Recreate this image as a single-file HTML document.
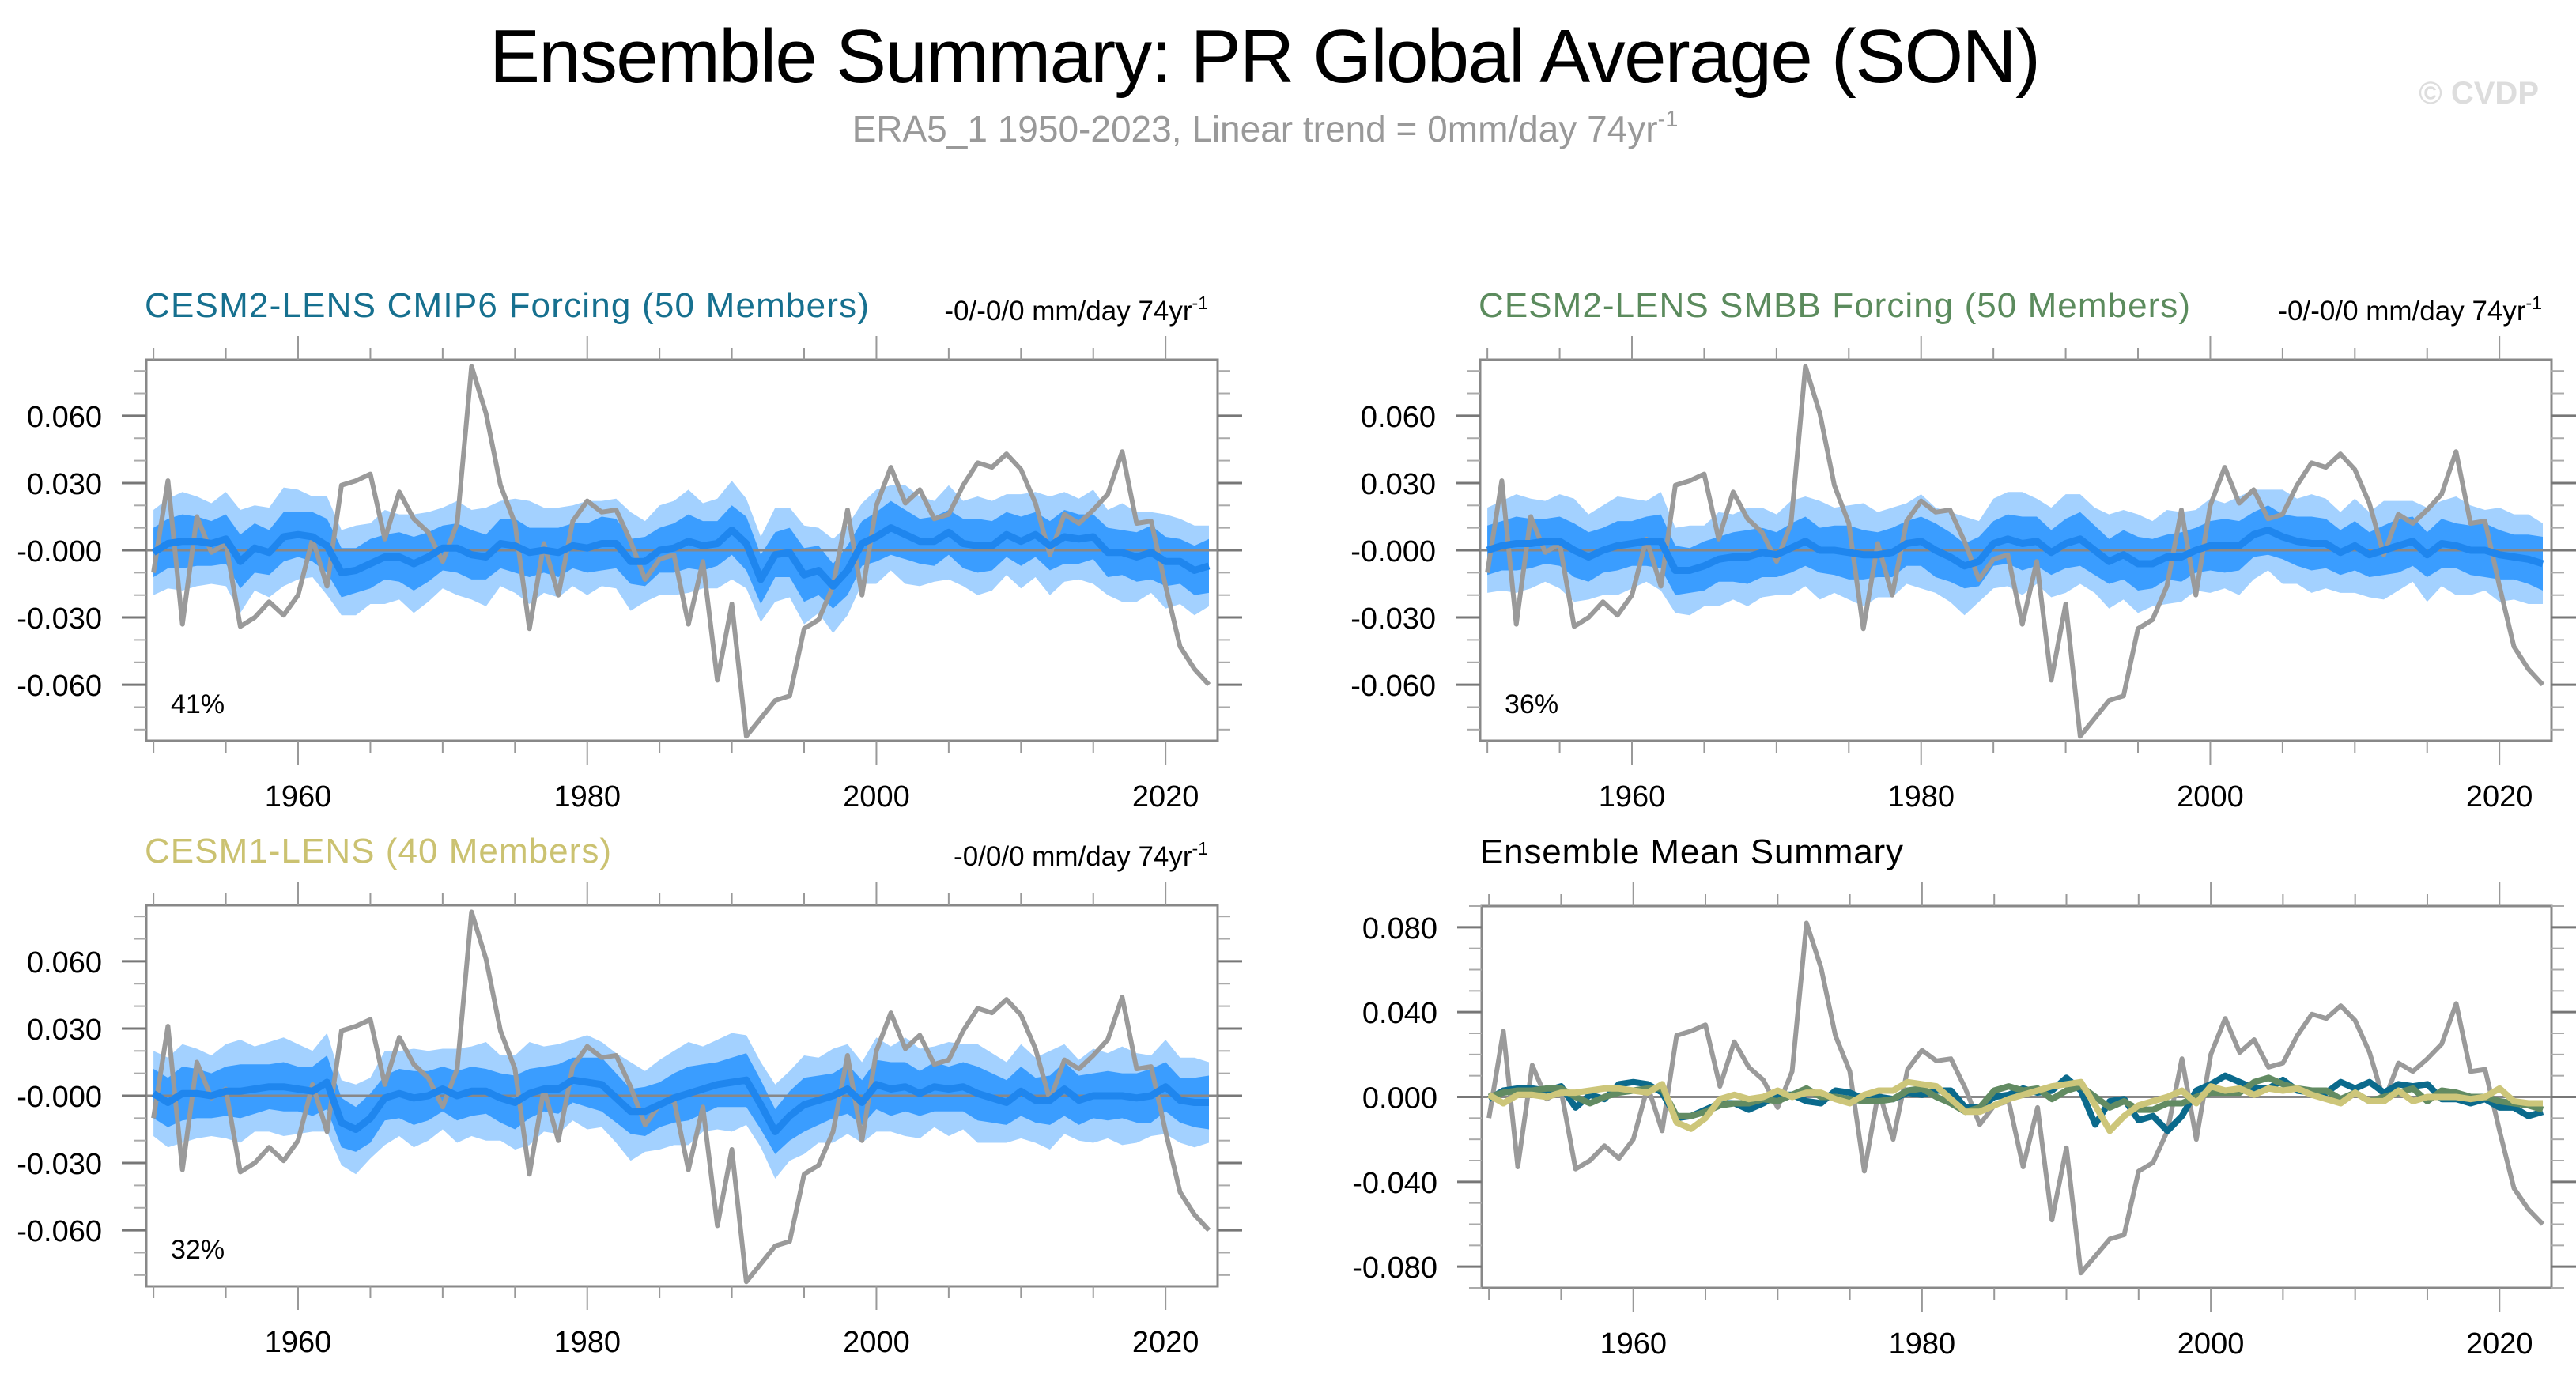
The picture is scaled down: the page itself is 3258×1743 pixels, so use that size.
<!DOCTYPE html>
<html><head><meta charset="utf-8"><title>Ensemble Summary</title>
<style>html,body{margin:0;padding:0;background:#fff}svg{display:block}text{font-family:"Liberation Sans",sans-serif}</style>
</head><body>
<svg id="root" width="3258" height="1743" viewBox="0 0 3258 1743" xmlns="http://www.w3.org/2000/svg">
<text x="1600" y="104" text-anchor="middle" font-size="96" textLength="1962" fill="#000">Ensemble Summary: PR Global Average (SON)</text>
<text x="1600" y="179" text-anchor="middle" font-size="46" fill="#999">ERA5_1 1950-2023, Linear trend = 0mm/day 74yr<tspan font-size="29" dy="-19">-1</tspan></text>
<text x="3211" y="131" text-anchor="end" font-size="40" font-weight="bold" fill="#ddd">© CVDP</text>
</svg>
<script>
const years = []; for (let y = 1950; y <= 2023; y++) years.push(y);
const obsERA5 = [-0.010,0.031,-0.033,0.015,-0.001,0.003,-0.034,-0.030,-0.023,-0.029,-0.020,0.005,-0.016,0.029,0.031,0.034,0.005,0.026,0.014,0.008,-0.005,0.012,0.082,0.061,0.029,0.012,-0.035,0.003,-0.020,0.013,0.022,0.017,0.018,0.004,-0.013,-0.004,-0.002,-0.033,-0.005,-0.058,-0.024,-0.083,-0.075,-0.067,-0.065,-0.035,-0.031,-0.016,0.018,-0.020,0.020,0.037,0.021,0.027,0.014,0.016,0.029,0.039,0.037,0.043,0.036,0.021,-0.002,0.016,0.012,0.018,0.025,0.044,0.012,0.013,-0.016,-0.043,-0.053,-0.060];
const meanCMIP6 = [-0.001,0.003,0.004,0.004,0.003,0.005,-0.005,0.001,-0.001,0.006,0.007,0.006,0.002,-0.010,-0.009,-0.006,-0.003,-0.003,-0.006,-0.003,0.001,0.001,-0.002,-0.003,0.003,0.002,-0.001,0.000,-0.001,0.002,0.001,0.003,0.003,-0.005,-0.005,0.000,0.001,0.004,0.002,0.003,0.009,0.003,-0.013,-0.002,-0.001,-0.011,-0.009,-0.016,-0.009,0.003,0.006,0.010,0.007,0.004,0.004,0.008,0.003,0.002,0.002,0.007,0.004,0.007,0.002,0.006,0.005,0.006,-0.001,-0.001,-0.003,-0.001,-0.005,-0.005,-0.009,-0.007];
const meanSMBB = [0.000,0.002,0.003,0.003,0.004,0.004,0.000,-0.003,0.000,0.002,0.003,0.004,0.004,-0.009,-0.009,-0.007,-0.004,-0.003,-0.003,-0.001,-0.002,0.001,0.004,0.000,0.000,-0.001,-0.002,-0.002,-0.001,0.003,0.004,0.000,-0.003,-0.007,-0.005,0.003,0.005,0.003,0.004,-0.001,0.003,0.005,0.000,-0.005,-0.002,-0.006,-0.006,-0.003,-0.003,0.000,0.002,0.002,0.002,0.007,0.009,0.006,0.004,0.003,0.003,-0.001,0.002,-0.002,0.000,0.002,0.004,-0.002,0.003,0.002,0.000,0.000,-0.002,-0.003,-0.004,-0.006];
const meanCESM1 = [0.001,-0.003,0.001,0.001,0.000,0.002,0.002,0.003,0.004,0.004,0.003,0.002,0.006,-0.012,-0.015,-0.010,-0.001,0.001,-0.001,0.000,0.003,0.000,0.002,0.002,-0.001,-0.003,0.001,0.003,0.003,0.007,0.006,0.005,-0.001,-0.007,-0.007,-0.004,-0.001,0.001,0.003,0.005,0.006,0.007,-0.004,-0.016,-0.009,-0.004,-0.002,0.000,0.003,-0.003,0.005,0.003,0.004,0.001,0.004,0.003,0.004,0.001,-0.001,-0.003,0.002,-0.002,-0.002,0.003,-0.002,0.000,0.000,0.000,-0.001,0.000,0.004,-0.002,-0.003,-0.003];
const darkHalf = [0.011,0.011,0.012,0.011,0.010,0.011,0.012,0.011,0.010,0.011,0.010,0.011,0.012,0.011,0.010,0.011,0.010,0.011,0.012,0.011,0.010,0.011,0.011,0.010,0.011,0.012,0.011,0.010,0.011,0.010,0.011,0.012,0.011,0.010,0.011,0.010,0.011,0.012,0.011,0.010,0.011,0.012,0.011,0.010,0.011,0.012,0.011,0.010,0.011,0.010,0.011,0.012,0.011,0.010,0.011,0.010,0.011,0.012,0.011,0.010,0.011,0.010,0.011,0.012,0.011,0.010,0.011,0.010,0.011,0.012,0.011,0.010,0.011,0.012];
const lightHalf = [0.019,0.020,0.022,0.020,0.018,0.021,0.023,0.019,0.020,0.022,0.020,0.018,0.022,0.019,0.020,0.018,0.021,0.019,0.022,0.020,0.018,0.021,0.020,0.022,0.019,0.021,0.023,0.019,0.020,0.018,0.021,0.019,0.020,0.022,0.018,0.020,0.021,0.023,0.019,0.020,0.022,0.020,0.019,0.021,0.020,0.022,0.019,0.021,0.020,0.018,0.021,0.019,0.022,0.020,0.018,0.021,0.019,0.022,0.020,0.018,0.021,0.019,0.022,0.020,0.018,0.021,0.019,0.022,0.020,0.018,0.021,0.019,0.020,0.018];
const xTickYears = [1960, 1980, 2000, 2020];
const yTicksTop = [0.06, 0.03, 0, -0.03, -0.06];
const yTickLabelsTop = ["0.060", "0.030", "-0.000", "-0.030", "-0.060"];
const yTicksSum = [0.08, 0.04, 0, -0.04, -0.08];
const yTickLabelsSum = ["0.080", "0.040", "0.000", "-0.040", "-0.080"];

const NS = "http://www.w3.org/2000/svg";
const root = document.getElementById("root");
function mk(tag, attrs, parent) {
  const e = document.createElementNS(NS, tag);
  for (const k in attrs) e.setAttribute(k, attrs[k]);
  (parent || root).appendChild(e);
  return e;
}

function panel(o) {
  const g = mk("g", {});
  
  
  const X = yr => o.x0 + (yr - 1949.5) / (2023.6 - 1949.5) * (o.x1 - o.x0);
  const Y = v => o.y0 + (o.ymax - v) / (o.ymax - o.ymin) * (o.y1 - o.y0);
  if (o.mean && o.bands) {
    [[lightHalf, "#a3d1ff", "light-spread-band"], [darkHalf, "#3a9dff", "dark-spread-band"]].forEach(([h, col, nm]) => {
      let d = "";
      years.forEach((yr, i) => { d += (i ? "L" : "M") + X(yr).toFixed(1) + "," + Y(o.mean[i] + h[i]).toFixed(1); });
      for (let i = years.length - 1; i >= 0; i--) d += "L" + X(years[i]).toFixed(1) + "," + Y(o.mean[i] - h[i]).toFixed(1);
      const p = mk("path", { d: d + "Z", fill: col }, g);
      
      
    });
  }
  const z = mk("line", { x1: o.x0, x2: o.x1, y1: Y(0), y2: Y(0), stroke: "#888", "stroke-width": 3 }, g);
  
  
  const line = (arr, col, w, nm) => {
    const pts = years.map((yr, i) => X(yr).toFixed(1) + "," + Y(arr[i]).toFixed(1)).join(" ");
    const pl = mk("polyline", { points: pts, fill: "none", stroke: col, "stroke-width": w, "stroke-linejoin": "round" }, g);
    
    
  };
  line(obsERA5, "#9a9a9a", 6, "era5-line");
  if (o.bands) line(o.mean, "#1f86ee", 9, "ensemble-mean-line");
  if (o.summary) {
    line(meanCMIP6, "#0b6a8c", 8, "cesm2-cmip6-mean-line");
    line(meanSMBB, "#628b62", 8, "cesm2-smbb-mean-line");
    line(meanCESM1, "#cdc67a", 8, "cesm1-mean-line");
  }
  const fr = mk("rect", { x: o.x0, y: o.y0, width: o.x1 - o.x0, height: o.y1 - o.y0, fill: "none", stroke: "#888", "stroke-width": 3 }, g);
  
  
  for (let yr = 1950; yr <= 2020; yr += 5) {
    const major = yr % 20 === 0;
    const L = major ? 30 : 15;
    mk("line", { x1: X(yr), x2: X(yr), y1: o.y0, y2: o.y0 - L, stroke: "#999", "stroke-width": 2 }, g);
    mk("line", { x1: X(yr), x2: X(yr), y1: o.y1, y2: o.y1 + L, stroke: "#999", "stroke-width": 2 }, g);
  }
  xTickYears.forEach(yr => {
    const t = mk("text", { x: X(yr), y: o.y1 + 83, "text-anchor": "middle", "font-size": 38 }, g);
    t.textContent = yr;
    
    
  });
  for (let k = Math.ceil(o.ymin / 0.01); k <= Math.floor(o.ymax / 0.01); k++) {
    const yy = Y(k * 0.01);
    mk("line", { x1: o.x0, x2: o.x0 - 16, y1: yy, y2: yy, stroke: "#aaa", "stroke-width": 2 }, g);
    mk("line", { x1: o.x1, x2: o.x1 + 16, y1: yy, y2: yy, stroke: "#aaa", "stroke-width": 2 }, g);
  }
  o.yt.forEach((v, i) => {
    mk("line", { x1: o.x0, x2: o.x0 - 31, y1: Y(v), y2: Y(v), stroke: "#777", "stroke-width": 3 }, g);
    mk("line", { x1: o.x1, x2: o.x1 + 31, y1: Y(v), y2: Y(v), stroke: "#777", "stroke-width": 3 }, g);
    const t = mk("text", { x: o.x0 - 56, y: Y(v) + 14, "text-anchor": "end", "font-size": 38 }, g);
    t.textContent = o.yl[i];
    
    
  });
  const tt = mk("text", { x: o.x0 - 2, y: o.y0 - 54, "font-size": 44, fill: o.tcol }, g);
  tt.textContent = o.title;
  if (o.tlen) tt.setAttribute("textLength", o.tlen);
  
  
  if (o.trend) {
    const tr = mk("text", { x: o.x1 - 12, y: o.y0 - 50, "font-size": 35, "text-anchor": "end" }, g);
    tr.innerHTML = o.trend + ' mm/day 74yr<tspan font-size="23" dy="-14">-1</tspan>';
    
    
  }
  if (o.pct) {
    const pc = mk("text", { x: o.x0 + 31, y: o.y1 - 35, "font-size": 34 }, g);
    pc.textContent = o.pct;
    
    
  }
}

panel({ name: "panel-cesm2-cmip6", x0: 185, x1: 1540, y0: 455, y1: 937, ymin: -0.085, ymax: 0.085, yt: yTicksTop, yl: yTickLabelsTop, mean: meanCMIP6, bands: true, title: "CESM2-LENS CMIP6 Forcing (50 Members)", tlen: 916, tcol: "#16708f", trend: "-0/-0/0", pct: "41%" });
panel({ name: "panel-cesm2-smbb", x0: 1872, x1: 3227, y0: 455, y1: 937, ymin: -0.085, ymax: 0.085, yt: yTicksTop, yl: yTickLabelsTop, mean: meanSMBB, bands: true, title: "CESM2-LENS SMBB Forcing (50 Members)", tlen: 900, tcol: "#5b8b5d", trend: "-0/-0/0", pct: "36%" });
panel({ name: "panel-cesm1", x0: 185, x1: 1540, y0: 1145, y1: 1627, ymin: -0.085, ymax: 0.085, yt: yTicksTop, yl: yTickLabelsTop, mean: meanCESM1, bands: true, title: "CESM1-LENS (40 Members)", tlen: 590, tcol: "#cbc271", trend: "-0/0/0", pct: "32%" });
panel({ name: "panel-ensemble-mean-summary", x0: 1874, x1: 3227, y0: 1146, y1: 1629, ymin: -0.09, ymax: 0.09, yt: yTicksSum, yl: yTickLabelsSum, summary: true, title: "Ensemble Mean Summary", tlen: 535, tcol: "#000" });
</script>
</body></html>
